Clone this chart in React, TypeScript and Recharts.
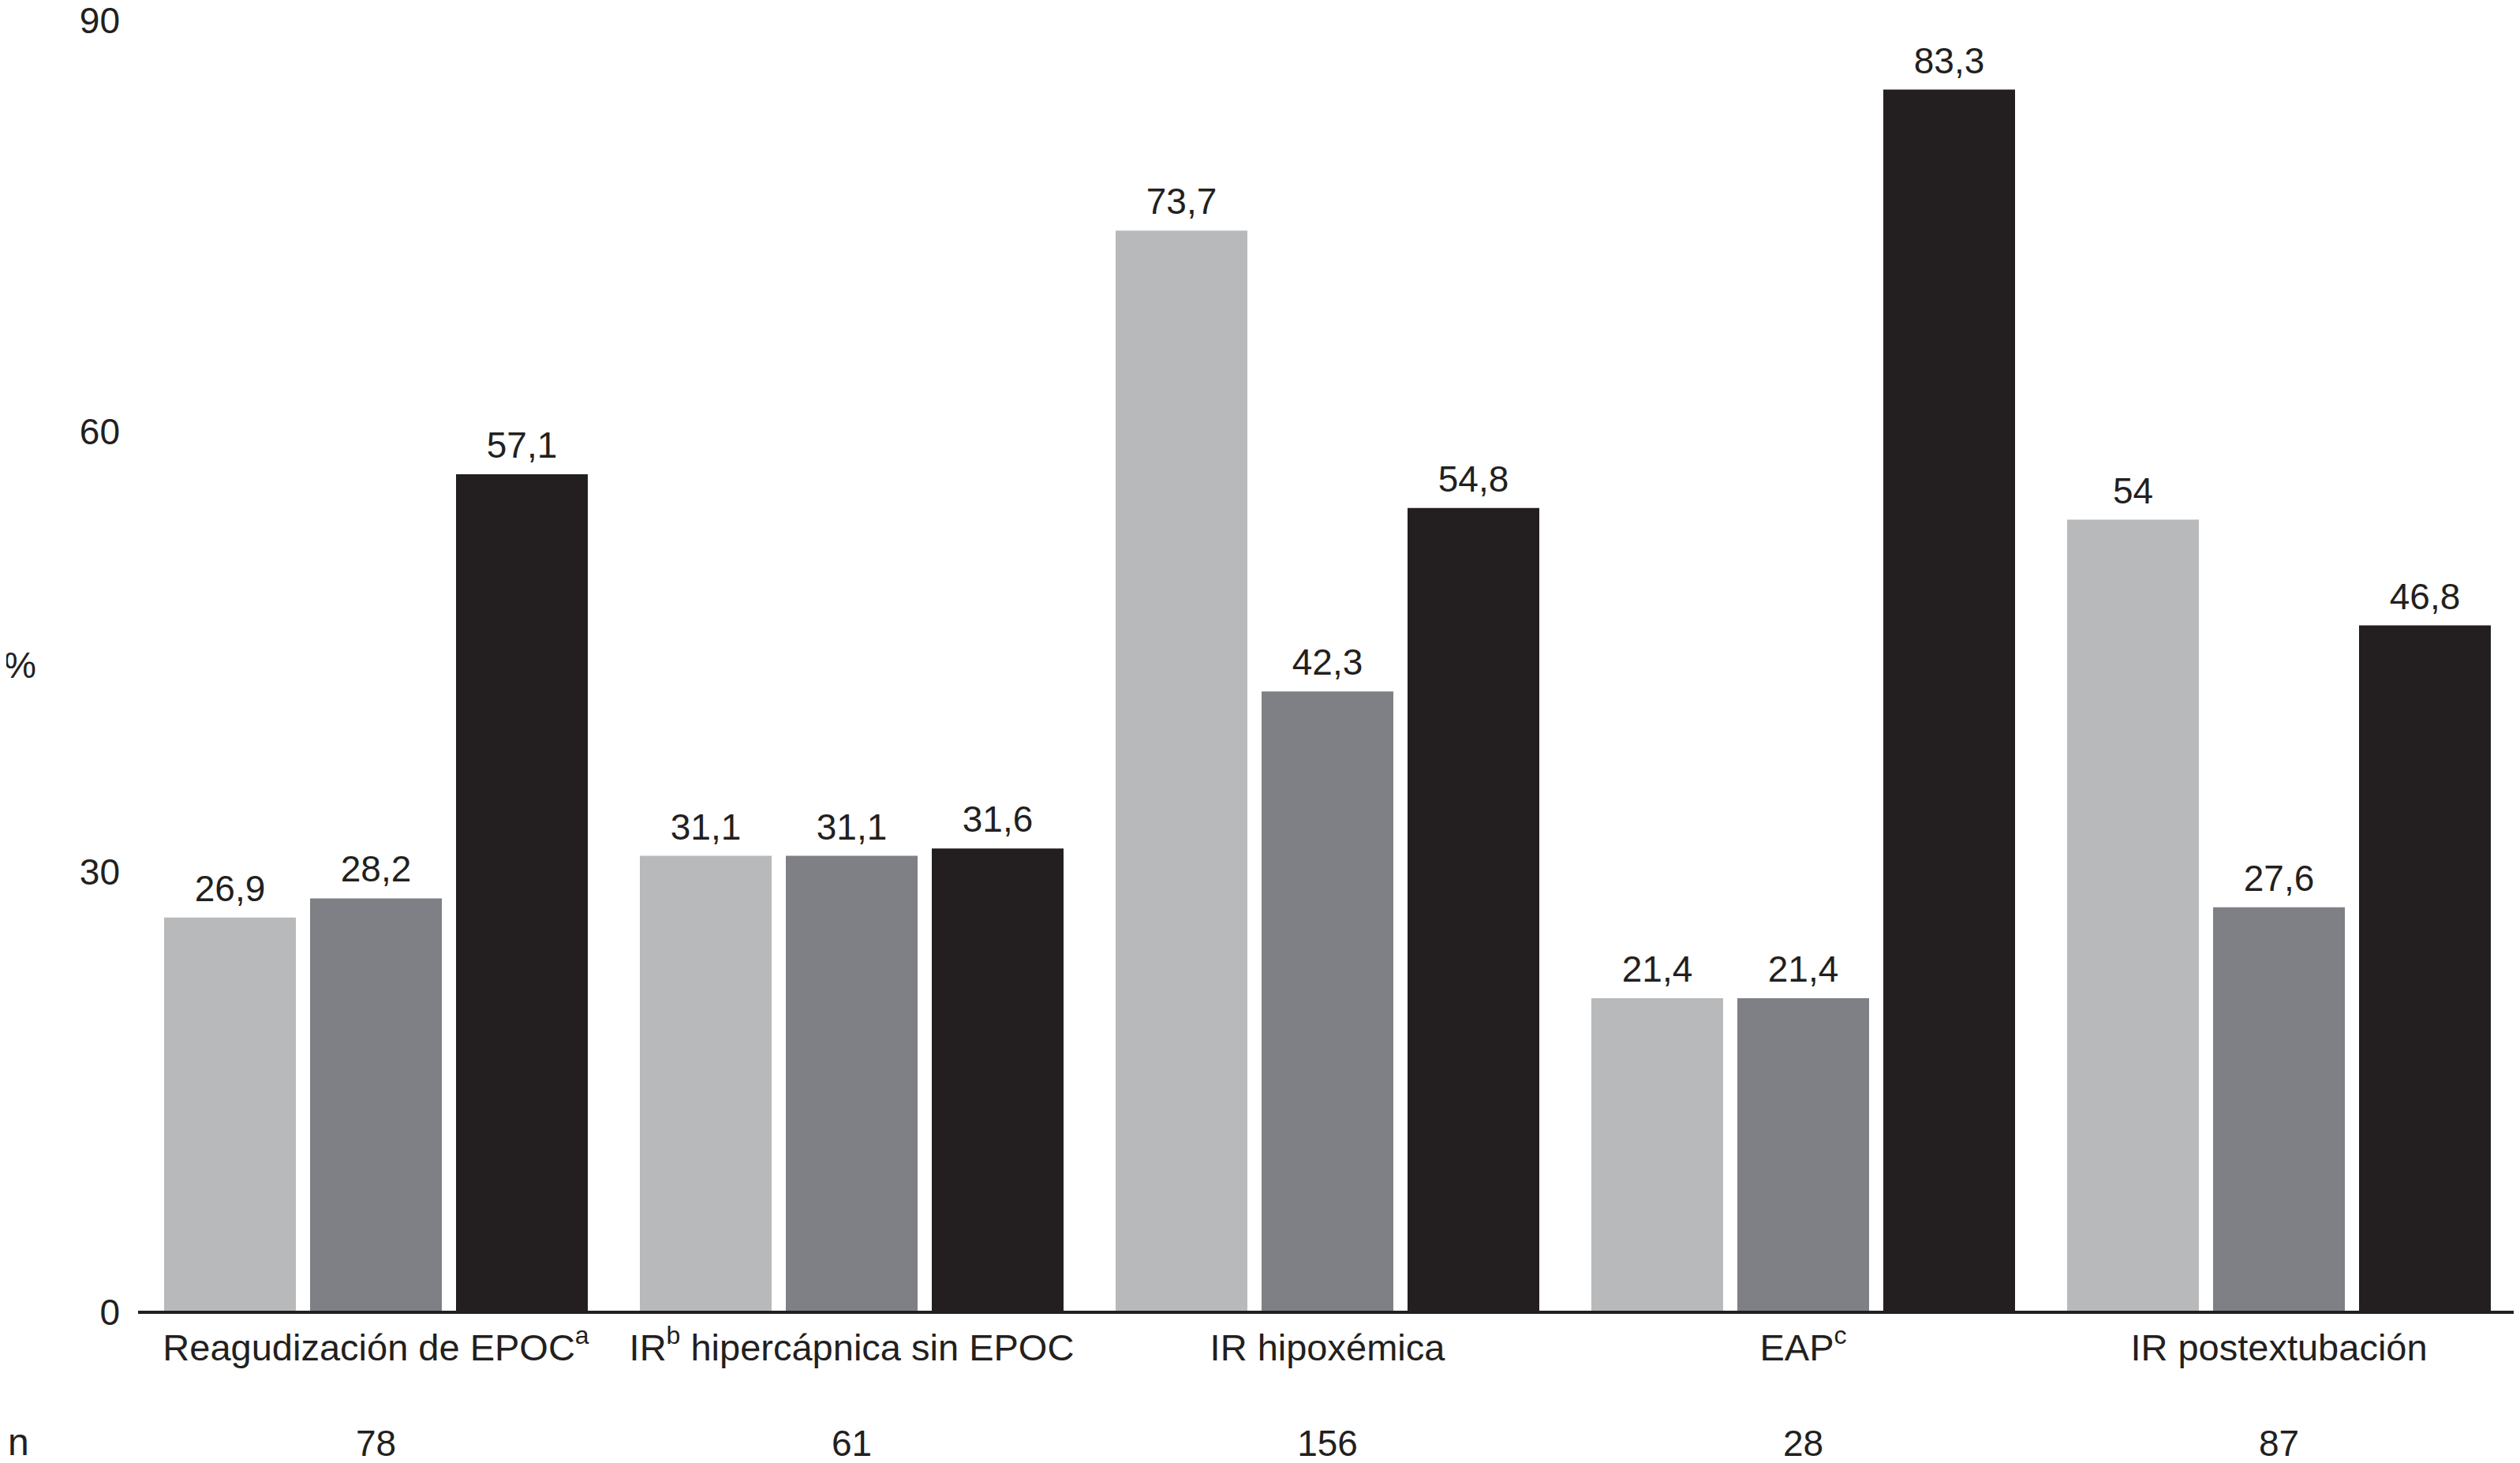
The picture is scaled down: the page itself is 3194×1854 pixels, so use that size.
import React from 'react';
import { BarChart, Bar, XAxis, YAxis, LabelList, Label } from 'recharts';

const categories = [
  'Reagudización de EPOC^a',
  'IR^b hipercápnica sin EPOC',
  'IR hipoxémica',
  'EAP^c',
  'IR postextubación',
];
const seriesLight = [26.9, 31.1, 73.7, 21.4, 54];
const seriesMid = [28.2, 31.1, 42.3, 21.4, 27.6];
const seriesDark = [57.1, 31.6, 54.8, 83.3, 46.8];
const nValues = [78, 61, 156, 28, 87];
const yTicks = [0, 30, 60, 90];

const data = categories.map((c, i) => ({
  category: c,
  light: seriesLight[i],
  mid: seriesMid[i],
  dark: seriesDark[i],
  n: nValues[i],
}));

const FONT = '"Liberation Sans", Arial, Helvetica, sans-serif';
const TEXT = '#231f20';

const fmt = (v: any) => String(v).replace('.', ',');

function renderParts(label: string) {
  const out: React.ReactNode[] = [];
  const re = /\^(\w)/g;
  let last = 0;
  let m: RegExpExecArray | null;
  let k = 0;
  let raised = false;
  while ((m = re.exec(label)) !== null) {
    const before = label.slice(last, m.index);
    if (before) {
      out.push(
        <tspan key={k++} dy={raised ? 21 : 0}>
          {before}
        </tspan>
      );
      raised = false;
    }
    out.push(
      <tspan key={k++} dy={-21} fontSize={32}>
        {m[1]}
      </tspan>
    );
    raised = true;
    last = m.index + m[0].length;
  }
  const rest = label.slice(last);
  if (rest) {
    out.push(
      <tspan key={k++} dy={raised ? 21 : 0}>
        {rest}
      </tspan>
    );
  }
  return out;
}

const XTick = (props: any) => {
  const { x, y, payload, index } = props;
  return (
    <g>
      <text
        x={x}
        y={y + 61}
        textAnchor="middle"
        fontSize={47}
        fontFamily={FONT}
        fill={TEXT}
      >
        {renderParts(String(payload.value))}
      </text>
      <text
        x={x}
        y={y + 182}
        textAnchor="middle"
        fontSize={46}
        fontFamily={FONT}
        fill={TEXT}
      >
        {nValues[index]}
      </text>
    </g>
  );
};

const YTick = (props: any) => {
  const { x, y, payload } = props;
  const yy = Math.max(y, 37);
  return (
    <text
      x={x}
      y={yy}
      dy="0.355em"
      textAnchor="end"
      fontSize={46}
      fontFamily={FONT}
      fill={TEXT}
    >
      {payload.value}
    </text>
  );
};

const SideLabels = (props: any) => {
  const vb = props.viewBox || { x: 0, y: 0, width: 0, height: 0 };
  return (
    <g>
      <text
        x={vb.x - 170}
        y={vb.y - 820}
        dy="0.355em"
        textAnchor="start"
        fontSize={46}
        fontFamily={FONT}
        fill={TEXT}
      >
        %
      </text>
      <text
        x={vb.x - 165}
        y={vb.y + 181}
        textAnchor="start"
        fontSize={48}
        fontFamily={FONT}
        fill={TEXT}
      >
        n
      </text>
    </g>
  );
};

export default function App() {
  return (
    <>
      <style>{'html,body{overflow:hidden;background:#fff}'}</style>
      <div style={{ margin: '-19px 0 0 -8px', width: 3194, height: 1865 }}>
        <BarChart
          width={3194}
          height={1865}
          data={data}
          margin={{ top: 0, right: 4, bottom: 0, left: 0 }}
          barCategoryGap={33}
          barGap={18}
        >
          <XAxis
            dataKey="category"
            height={191}
            tickSize={0}
            tickMargin={0}
            tickLine={false}
            axisLine={{ stroke: TEXT, strokeWidth: 4 }}
            tick={<XTick />}
            interval={0}
          >
            <Label content={<SideLabels />} />
          </XAxis>
          <YAxis
            width={175}
            domain={[0, 90]}
            ticks={yTicks}
            tickSize={0}
            tickMargin={23}
            tickLine={false}
            axisLine={false}
            tick={<YTick />}
            allowDataOverflow
          />
          <Bar dataKey="light" fill="#b8b9bb" isAnimationActive={false}>
            <LabelList
              dataKey="light"
              position="top"
              offset={21}
              formatter={fmt}
              fontSize={46}
              fontFamily={FONT}
              fill={TEXT}
            />
          </Bar>
          <Bar dataKey="mid" fill="#7f8085" isAnimationActive={false}>
            <LabelList
              dataKey="mid"
              position="top"
              offset={21}
              formatter={fmt}
              fontSize={46}
              fontFamily={FONT}
              fill={TEXT}
            />
          </Bar>
          <Bar dataKey="dark" fill="#231f20" isAnimationActive={false}>
            <LabelList
              dataKey="dark"
              position="top"
              offset={21}
              formatter={fmt}
              fontSize={46}
              fontFamily={FONT}
              fill={TEXT}
            />
          </Bar>
        </BarChart>
      </div>
    </>
  );
}
